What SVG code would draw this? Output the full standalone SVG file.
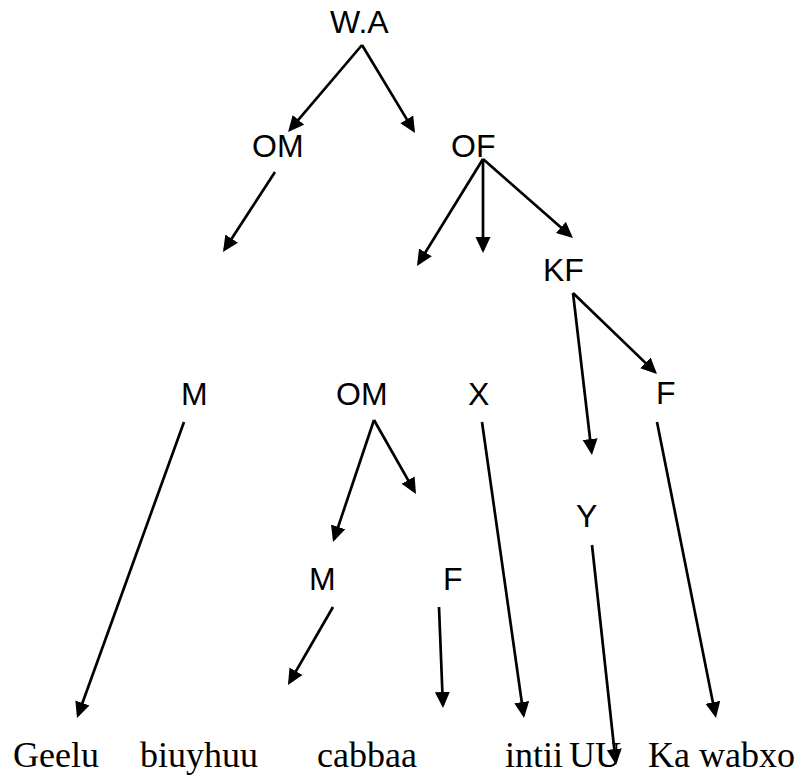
<svg xmlns="http://www.w3.org/2000/svg" width="802" height="778" viewBox="0 0 802 778">
<style>
.n{font-family:"Liberation Sans",Arial,sans-serif;font-size:32px;fill:#000}
.w{font-family:"Liberation Serif","Times New Roman",serif;font-size:36px;fill:#000}
.c line{stroke:#000;stroke-width:2.7;marker-end:url(#ah)}
</style>
<defs>
<marker id="ah" markerUnits="userSpaceOnUse" markerWidth="17" markerHeight="17" refX="13" refY="8" orient="auto">
<path d="M0,0.5 L16,8 L0,15.5 z" fill="#000"/>
</marker>
</defs>
<rect width="802" height="778" fill="#fff"/>
<g id="connectors" class="c">
<line x1="362" y1="45" x2="290" y2="129.7"/>
<line x1="362" y1="45" x2="413.5" y2="130.4"/>
<line x1="275" y1="172" x2="224.6" y2="249.5"/>
<line x1="483" y1="159" x2="418.6" y2="263.4"/>
<line x1="483" y1="159" x2="483" y2="250"/>
<line x1="483" y1="159" x2="570.7" y2="236"/>
<line x1="573" y1="293" x2="591.6" y2="452"/>
<line x1="573" y1="293" x2="654.8" y2="371.9"/>
<line x1="657" y1="422" x2="715.4" y2="715"/>
<line x1="482" y1="422" x2="523.6" y2="715"/>
<line x1="592" y1="545" x2="615.7" y2="762"/>
<line x1="184" y1="422" x2="78" y2="715.2"/>
<line x1="374" y1="420" x2="334" y2="539.2"/>
<line x1="374" y1="420" x2="414.5" y2="491.4"/>
<line x1="333" y1="607" x2="289.5" y2="682.4"/>
<line x1="439" y1="607" x2="442.9" y2="705"/>
</g>
<g id="n-wa"><text class="n" x="330" y="33">W.A</text></g>
<g id="n-om1"><text class="n" x="252" y="157">OM</text></g>
<g id="n-of"><text class="n" x="451" y="157">OF</text></g>
<g id="n-kf"><text class="n" x="543" y="281">KF</text></g>
<g id="n-m1"><text class="n" x="181" y="405">M</text></g>
<g id="n-om2"><text class="n" x="336" y="405">OM</text></g>
<g id="n-x"><text class="n" x="468" y="405">X</text></g>
<g id="n-f1"><text class="n" x="656" y="404">F</text></g>
<g id="n-y"><text class="n" x="576" y="527">Y</text></g>
<g id="n-m2"><text class="n" x="309" y="590">M</text></g>
<g id="n-f2"><text class="n" x="443" y="590">F</text></g>
<g id="w-geelu"><text class="w" x="13" y="767">Geelu</text></g>
<g id="w-biuyhuu"><text class="w" x="140" y="767">biuyhuu</text></g>
<g id="w-cabbaa"><text class="w" x="317" y="767">cabbaa</text></g>
<g id="w-intii"><text class="w" x="505" y="767">intii</text></g>
<g id="w-uu"><text class="w" x="569" y="767">UU</text></g>
<g id="w-kawabxo"><text class="w" x="648" y="767">Ka wabxo</text></g>
</svg>
